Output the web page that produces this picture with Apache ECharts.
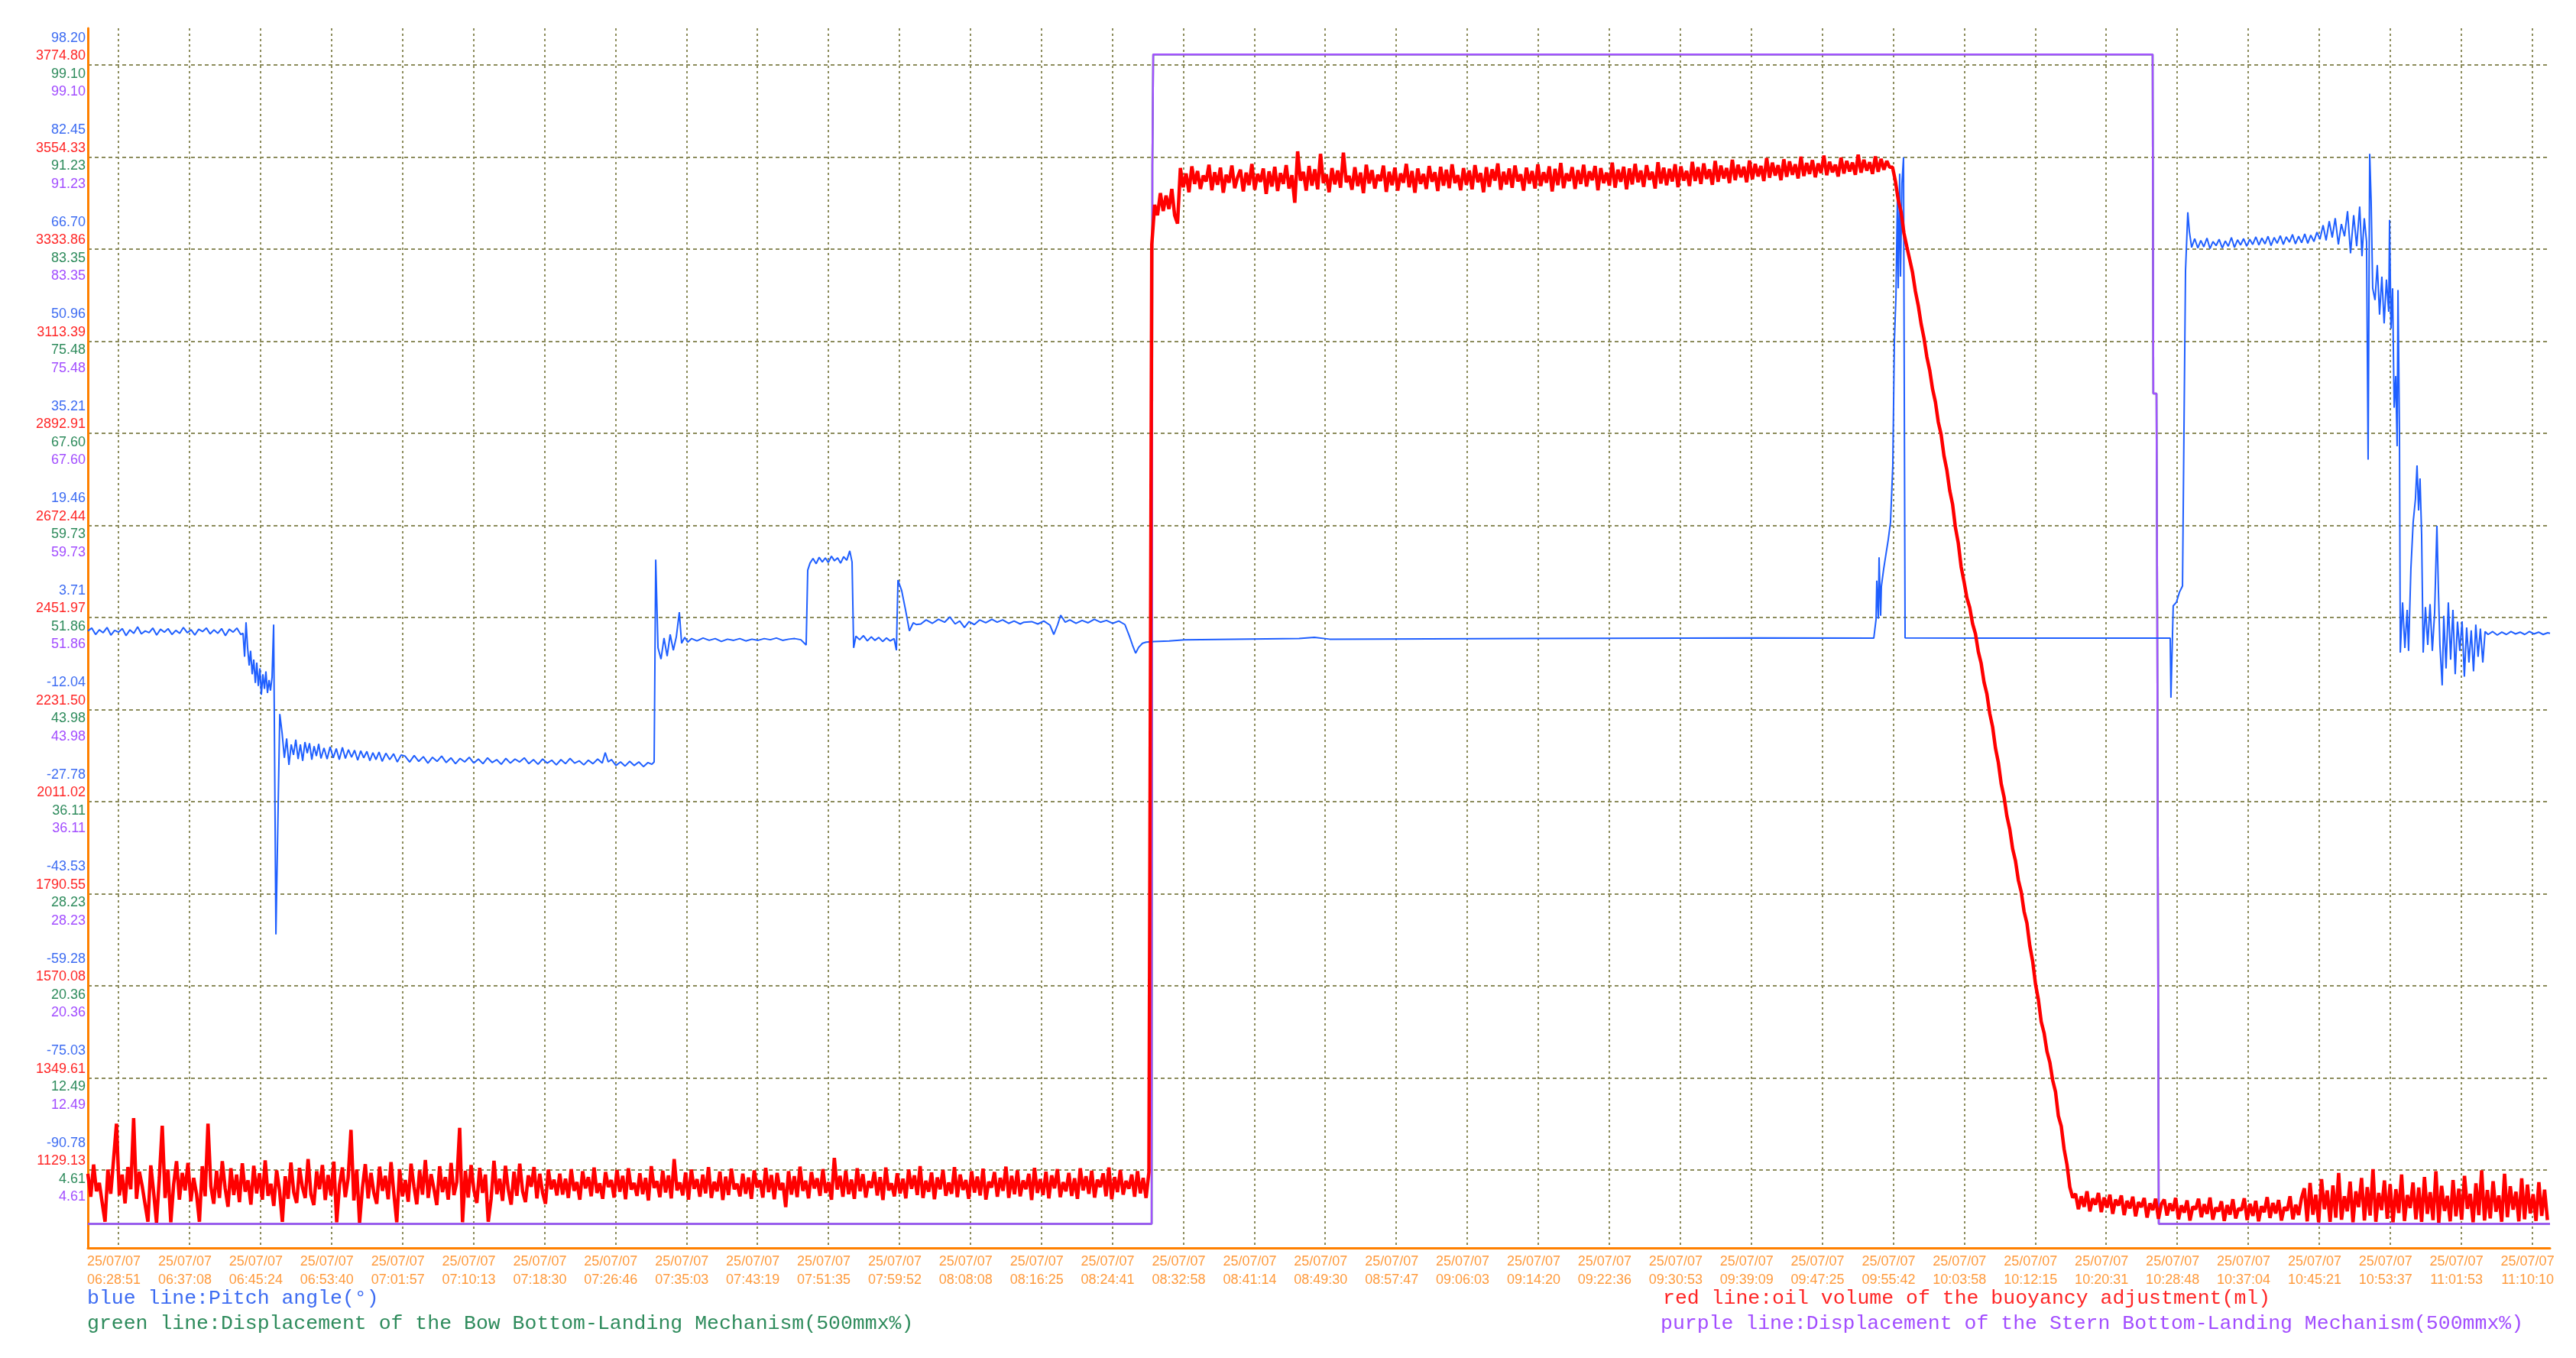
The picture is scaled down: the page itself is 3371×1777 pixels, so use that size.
<!DOCTYPE html>
<html><head><meta charset="utf-8">
<script src="https://cdn.jsdelivr.net/npm/echarts@6/dist/echarts.min.js"></script>
<style>html,body{margin:0;padding:0;background:#fff}#c{width:3371px;height:1777px}</style>
</head><body><div id="c"></div>
<script>
// ---- tick labels ----
const xTickDate = '25/07/07';
const xTickTimes = ['06:28:51','06:37:08','06:45:24','06:53:40','07:01:57','07:10:13','07:18:30','07:26:46','07:35:03','07:43:19','07:51:35','07:59:52','08:08:08','08:16:25','08:24:41','08:32:58','08:41:14','08:49:30','08:57:47','09:06:03','09:14:20','09:22:36','09:30:53','09:39:09','09:47:25','09:55:42','10:03:58','10:12:15','10:20:31','10:28:48','10:37:04','10:45:21','10:53:37','11:01:53','11:10:10'];
const blueTicks = [-90.78,-75.03,-59.28,-43.53,-27.78,-12.04,3.71,19.46,35.21,50.96,66.70,82.45,98.20];
const redTicks = [1129.13,1349.61,1570.08,1790.55,2011.02,2231.50,2451.97,2672.44,2892.91,3113.39,3333.86,3554.33,3774.80];
const greenTicks = [4.61,12.49,20.36,28.23,36.11,43.98,51.86,59.73,67.60,75.48,83.35,91.23,99.10];
const purpleTicks = [4.61,12.49,20.36,28.23,36.11,43.98,51.86,59.73,67.60,75.48,83.35,91.23,99.10];

// ---- legend texts ----
const legendBlue = 'blue line:Pitch angle(°)';
const legendGreen = 'green line:Displacement of the Bow Bottom-Landing Mechanism(500mmx%)';
const legendRed = 'red line:oil volume of the buoyancy adjustment(ml)';
const legendPurple = 'purple line:Displacement of the Stern Bottom-Landing Mechanism(500mmx%)';

// ---- series (x = seconds after 06:28:51) ----
// pitch angle (deg)
const bluePts = [[-214,1.4],[-187,1.9],[-160,0.8],[-134,1.6],[-107,1.1],[-80,2.0],[-53,0.7],[-27,1.5],[0,1.2],[27,1.8],[53,0.6],[80,1.6],[107,1.0],[134,2.1],[160,0.9],[187,1.4],[214,1.1],[240,1.9],[267,0.7],[294,1.7],[321,1.2],[347,1.8],[374,0.8],[401,1.5],[428,1.0],[454,2.0],[481,1.1],[508,1.6],[534,0.7],[561,1.7],[588,1.3],[615,1.9],[641,0.9],[668,1.6],[695,1.0],[721,1.8],[748,0.6],[775,1.7],[802,1.2],[828,1.9],[855,0.8],
[871,1.0],[882,-3.0],[892,2.9],[903,-1.5],[914,-4.5],[924,-2.0],[935,-6.0],[946,-3.5],[957,-7.5],[967,-4.0],[978,-8.0],[989,-5.0],[999,-9.5],[1010,-6.0],[1021,-8.5],[1031,-5.5],[1042,-9.2],[1053,-7.0],[1063,-8.8],[1074,-6.5],[1085,2.5],[1101,-50.5],[1128,-12.8],[1144,-16.0],[1160,-20.3],[1176,-17.0],[1192,-21.5],[1208,-18.0],[1224,-19.8],[1240,-17.2],[1256,-20.5],[1272,-18.0],[1288,-20.8],[1304,-17.6],[1320,-19.5],[1336,-17.8],[1352,-20.6],[1368,-18.3],[1384,-20.0],[1400,-17.9],[1416,-20.4],[1437,-18.6],[1459,-20.5],[1480,-18.4],[1502,-20.3],[1523,-18.7],[1544,-20.6],[1566,-18.5],[1587,-20.4],[1608,-18.9],[1630,-20.2],[1651,-19.0],[1673,-20.7],[1694,-19.1],[1715,-20.3],[1737,-19.2],[1758,-20.8],[1779,-19.4],[1801,-20.6],[1822,-19.3],[1844,-20.9],[1870,-19.5],[1897,-20.6],[1924,-19.6],[1950,-21.0],[1977,-19.8],
[2004,-20.0],[2036,-21.0],[2068,-19.9],[2100,-20.9],[2132,-20.1],[2164,-21.2],[2196,-20.2],[2228,-20.9],[2260,-20.0],[2292,-21.1],[2325,-20.3],[2357,-21.3],[2389,-20.4],[2421,-21.0],[2453,-20.2],[2485,-21.2],[2517,-20.5],[2549,-21.3],[2581,-20.3],[2613,-21.1],[2645,-20.6],[2677,-21.4],[2709,-20.4],[2741,-21.2],[2773,-20.5],[2805,-21.0],[2838,-20.3],[2870,-21.3],[2902,-20.6],[2934,-21.4],[2966,-20.5],[2998,-21.2],[3030,-20.7],[3062,-21.5],[3094,-20.6],[3126,-21.3],[3158,-20.4],[3190,-21.2],[3222,-20.8],[3254,-21.5],[3286,-20.7],[3318,-21.3],[3351,-20.5],[3383,-21.2],[3404,-19.4],[3425,-21.0],[3447,-20.6],[3479,-21.6],[3511,-21.0],[3543,-21.7],[3575,-20.9],[3607,-21.6],[3639,-21.0],[3671,-21.8],[3703,-21.1],[3730,-21.4],
[3746,-21.0],[3757,13.6],[3773,-1.5],[3794,-3.4],[3815,0.2],[3837,-2.9],[3858,0.8],[3880,-1.9],[3901,0.4],[3922,4.6],[3938,-0.7],[3960,0.3],[3981,-0.5],[4008,0.1],[4045,-0.3],[4088,0.2],[4131,-0.2],[4173,0.1],[4216,-0.4],[4259,0.0],[4302,-0.2],[4345,0.1],[4387,-0.3],[4430,0.0],[4473,-0.2],[4516,0.1],[4558,-0.1],[4601,0.2],[4644,-0.2],[4687,0.0],[4729,0.1],[4772,-0.1],[4809,-1.0],[4820,11.8],[4836,13.0],[4857,13.8],[4879,12.9],[4900,14.0],[4922,13.2],[4943,13.9],[4964,13.1],[4986,14.2],[5007,13.4],[5029,13.9],[5050,13.0],[5071,14.1],[5093,13.5],[5114,15.1],[5130,13.2],[5141,-1.5],[5157,0.5],[5183,-0.1],[5210,0.6],[5237,-0.3],[5264,0.4],[5290,-0.2],[5317,0.3],[5344,-0.4],[5371,0.2],[5397,-0.3],[5424,0.1],[5440,-1.9],[5451,10.1],[5477,8.3],[5504,5.0],[5531,1.4],[5558,2.8],[5579,2.5],
[5611,2.6],[5648,3.3],[5691,2.7],[5734,3.4],[5777,2.9],[5814,3.8],[5851,2.6],[5883,3.1],[5916,2.0],[5948,3.0],[5985,2.5],[6022,3.3],[6065,2.8],[6108,3.4],[6145,2.9],[6183,3.3],[6225,2.7],[6263,3.1],[6306,2.6],[6332,2.9],[6386,3.0],[6429,2.6],[6471,3.1],[6514,2.4],[6541,0.8],[6568,2.5],[6589,4.1],[6621,2.9],[6653,3.3],[6696,2.7],[6739,3.2],[6781,2.8],[6824,3.4],[6867,2.9],[6909,3.2],[6952,2.7],[6995,3.1],[7038,2.5],[7070,0.5],[7091,-1.0],[7113,-2.4],[7134,-1.4],[7161,-0.7],[7187,-0.5],[7241,-0.4],[7348,-0.3],[7455,-0.1],[8256,0.1],[8363,0.3],[8470,0.0],[9859,0.1],[11463,0.2],[12275,0.17],
[12280,0.2],[12291,3.4],[12296,10.0],[12307,3.5],[12312,14.0],[12323,4.0],[12328,9.0],[12344,12.0],[12360,14.5],[12376,17.0],[12392,20.0],[12408,29.7],[12419,50.9],[12430,58.5],[12440,75.0],[12446,60.0],[12456,79.6],[12462,62.0],[12472,78.0],[12483,82.4],[12494,0.2],[13066,0.17],[13600,0.17],[14348,0.17],
[14353,-10.0],[14369,5.7],[14391,6.3],[14412,8.0],[14434,9.1],[14444,35.1],[14455,63.0],[14471,73.0],[14482,69.7],
[14498,67.0],[14519,68.5],[14541,66.9],[14562,68.2],[14583,67.1],[14605,68.6],[14626,66.8],[14647,68.0],[14669,67.3],[14690,68.4],[14712,66.9],[14733,68.1],[14754,67.2],[14776,68.7],[14797,67.0],[14819,68.3],[14840,67.4],[14861,68.5],[14883,67.2],[14904,68.4],[14925,67.5],[14947,68.8],[14968,67.4],[14989,68.6],[15011,67.6],[15032,68.9],[15053,67.3],[15075,68.7],[15096,67.7],[15118,69.0],[15139,67.5],[15160,68.8],[15182,67.9],[15203,69.2],[15224,67.6],[15246,68.9],[15267,67.8],[15289,69.3],[15310,67.7],[15331,69.1],[15353,68.0],[15374,69.6],
[15395,68.4],[15417,70.8],[15438,68.2],[15460,71.5],[15481,68.7],[15502,72.0],[15524,67.5],[15545,71.0],[15567,68.9],[15588,73.2],[15609,66.0],[15631,72.5],[15652,67.2],[15673,74.0],[15689,65.5],[15705,72.0],[15721,68.0],[15732,30.7],[15743,83.0],[15753,75.0],[15764,60.0],[15780,58.0],[15796,64.0],[15812,55.5],[15828,62.0],[15844,54.0],[15860,61.5],[15876,56.0],[15882,71.7],[15892,53.1],[15903,60.0],[15914,39.6],[15925,45.0],[15935,33.0],[15941,59.7],[15951,36.0],[15957,-2.3],[15973,6.3],[15989,-1.5],[16005,5.0],[16015,-2.0],[16031,12.0],[16047,20.0],[16063,24.0],[16074,29.7],[16085,22.0],[16095,27.5],[16106,18.0],[16117,-2.3],[16133,5.5],[16149,-1.0],[16165,6.0],[16181,-2.0],[16197,4.5],[16213,19.4],[16224,8.0],[16234,-1.0],[16250,-7.9],[16261,4.0],[16277,-5.0],[16293,6.3],[16309,-3.5],[16325,5.0],[16341,-6.0],[16357,3.0],[16373,-2.0],[16389,3.05],[16405,-6.4],[16421,2.0],[16437,-4.0],[16453,1.5],[16469,-5.5],[16485,2.5],[16501,-3.0],[16517,1.8],[16534,-4.0],[16550,1.3],[16571,0.8],[16603,1.3],[16635,0.7],[16667,1.2],[16699,0.8],[16731,1.3],[16763,0.9],[16795,1.2],[16827,0.8],[16860,1.3],[16892,0.9],[16924,1.2],[16956,0.8],[16988,1.1],[17004,1.0]];

// oil volume (ml), logged every redStep seconds from redStart
const redStart = -214;
const redStep = 20;
const redVals = [
1120,1065,1142,1078,1098,1051,1005,1130,1072,1155,1240,1068,1118,1049,1136,1083,1253,1060,1125,1090,
1047,1005,1140,1075,1003,1112,1235,1062,1130,1004,1095,1150,1058,1122,1080,1146,1054,1110,1071,1005,
1138,1066,1240,1090,1048,1127,1062,1150,1085,1041,1133,1069,1118,1052,1145,1077,1104,1046,1139,1073,
1121,1058,1152,1067,1096,1043,1128,1081,1005,1114,1060,1147,1075,1050,1134,1088,1062,1155,1070,1045,
1126,1083,1141,1057,1117,1068,1149,1004,1094,1135,1064,1110,1225,1056,1130,1003,1086,1143,1061,1122,
1074,1048,1137,1079,1115,1059,1148,1072,1004,1131,1066,1105,1053,1144,1090,1047,1128,1070,1153,1062,
1119,1084,1045,1138,1076,1112,1058,1146,1069,1100,1230,1004,1127,1063,1141,1080,1050,1134,1074,1118,
1005,1060,1151,1071,1108,1055,1139,1082,1046,1125,1067,1144,1078,1052,1116,1089,1136,1061,1120,1074,
1048,1130,1083,1106,1068,
1120,1070,1108,1062,1131,1079,1100,1058,1126,1085,1112,1066,1135,1074,1097,1060,1124,1088,1105,1063,
1129,1077,1115,1059,1133,1082,1098,1067,1121,1071,1110,1056,1138,1086,1102,1064,1127,1075,1116,1061,
1155,1080,1099,1068,1123,1058,1130,1084,1107,1065,1118,1073,1136,1062,1101,1078,1125,1057,1113,1069,
1132,1083,1096,1066,1120,1072,1111,1060,1128,1087,1104,1063,1134,1076,1117,1059,1122,1081,1098,1040,
1126,1070,1114,1064,1137,1079,1103,1061,1124,1085,1109,1067,1131,1074,1100,1058,1158,1082,1115,1065,
1127,1071,1106,1060,1133,1078,1119,1063,1102,1086,1125,1068,1112,1057,1135,1080,1097,1066,1121,1073,
1108,1061,1130,1084,1116,1069,1138,1062,1103,1077,1123,1059,1111,1083,1129,1067,1099,1072,1136,1064,
1118,1081,1105,1060,1126,1075,1113,1068,1132,1058,1101,1087,1124,1065,1110,1079,1137,1062,1115,1071,
1128,1066,1104,1083,1120,1057,1134,1074,1107,1069,1125,1061,1116,1085,1131,1064,1100,1078,1122,1067,
1109,1060,1133,1080,1114,1072,1127,1063,1106,1088,1121,1066,1135,1059,1112,1076,1129,1070,1103,1084,
1118,1065,1126,1073,1110,1062,1124,
3345,3440,3415,3468,3425,3462,3430,3478,3415,3395,
3528,3482,3515,3470,3532,3490,3521,3478,3510,3496,3536,3475,3518,3488,3529,3469,3512,3493,3534,3480,
3506,3524,3472,3517,3487,3538,3476,3514,3495,3527,3466,3520,3484,3531,3473,3516,3490,3535,3479,3511,
3445,3568,3498,3519,3474,3533,3486,3525,3477,3562,3492,3513,3470,3528,3489,3522,3481,3565,3494,3509,
3476,3530,3485,3517,3468,3536,3491,3523,3479,3512,3497,3534,3471,3519,3487,3529,3474,3515,3493,3538,
3482,3521,3469,3527,3490,3514,3478,3533,3495,3518,3473,3531,3486,3524,3480,3537,3492,3511,3475,3528,
3488,3522,3477,3535,3494,3516,3470,3530,3483,3525,3498,3539,3476,3519,3489,3527,3481,3534,3496,3513,
3474,3529,3491,3521,3479,3537,3485,3518,3493,3532,3472,3526,3487,3540,3480,3515,3497,3530,3478,3523,
3490,3536,3484,3520,3499,3533,3475,3528,3492,3517,3486,3541,3481,3524,3495,3531,3477,3527,3489,3538,
3494,3522,3483,3535,3500,3519,3479,3542,3491,3529,3487,3526,3496,3537,3482,3532,3498,3521,3485,3543,
3497,3530,3490,3539,3502,3525,3488,3545,3495,3534,3503,3528,3492,3548,3499,3536,3506,3531,3494,3546,
3501,3538,3508,3533,3497,3552,3505,3541,3510,3535,3499,3549,3507,3544,3512,3537,3503,3555,3509,3540,
3514,3547,3506,3539,3516,3558,3511,3543,3518,3536,3508,3553,3515,3545,3520,3541,3512,3560,3517,3548,
3522,3542,3514,3556,3519,3550,3524,3545,3530,
3530,3497,3452,3423,3372,3340,3309,3278,3233,3199,3155,3121,3076,3044,2999,2968,2920,2890,2839,2805,
2756,2723,2667,2630,2573,2538,2499,2476,2437,2413,2370,2342,2297,2269,2222,2190,2139,2105,2054,2022,
1976,1945,1898,1869,1823,1795,1748,1720,1666,1629,1574,1537,1484,1457,1413,1387,1344,1316,1258,1234,
1179,1142,1088,1063,
1072,1035,1066,1041,1078,1030,1061,1046,1074,1028,1063,1039,1070,1024,1058,1044,1068,1021,1055,1037,
1065,1018,1052,1040,1062,1015,1049,1033,1060,1012,1047,
1058,1020,1049,1031,1062,1011,1044,1027,1056,1008,1041,1035,1060,1016,1047,1024,1063,1010,1039,1030,
1054,1007,1045,1022,1059,1013,1037,1033,1061,1009,1048,1019,1055,1006,1042,1028,1064,1014,1050,1025,
1057,1008,1040,1032,1066,1011,1046,1021,1062,
1085,1006,1098,1022,1070,1004,1107,1035,1080,1005,1092,1015,1122,1010,1066,1030,1101,1004,1078,1040,
1110,1008,1088,1020,1131,1005,1074,1033,1104,1012,1095,1004,1083,1026,1118,1007,1069,1038,1099,1011,
1087,1005,1112,1024,1076,1009,1126,1003,1091,1031,1067,1006,1105,1018,1084,1010,1115,1036,1072,1004,
1097,1021,1128,1008,1081,1013,1102,1029,1068,1005,1120,1016,1090,1034,1077,1006,1109,1011,1094,1025,
1071,1007,1100,1019,1082,1009];

// stern mechanism displacement (%)
const purplePts = [[-214,0],[7225,0],[7230,90.5],[7236,100],[14225,100],[14230,71],[14252,71],[14257,53],[14262,53],[14268,0],[17004,0]];
// bow mechanism displacement (%)
const greenPts = [[-214,0],[7225,0],[7230,90.5],[7236,100],[14225,100],[14230,71],[14252,71],[14257,53],[14262,53],[14268,0],[17004,0]];

// ---- build ----
function toSec(s){const p=s.split(':').map(Number);return p[0]*3600+p[1]*60+p[2];}
const t0 = toSec(xTickTimes[0]);
const xTickSec = xTickTimes.map(t => toSec(t) - t0);
function nearestIdx(arr, v){let b=0,d=Infinity;arr.forEach((a,i)=>{const e=Math.abs(a-v);if(e<d){d=e;b=i;}});return b;}
const redData = redVals.map((v,i) => [redStart + i*redStep, v]);

const labelFont = 'Liberation Sans, Arial, sans-serif';
const monoFont = 'Liberation Mono, DejaVu Sans Mono, monospace';
const C = {blue:'#3d6cf2', red:'#ff2626', green:'#2e8b5c', purple:'#a24dff'};
const legendStyle = (color) => ({fontFamily:monoFont, fontSize:26.5, fontWeight:'normal', color:color, lineHeight:30});

const chart = echarts.init(document.getElementById('c'), null, {renderer:'canvas'});
chart.setOption({
  animation:false,
  backgroundColor:'#ffffff',
  title:[
    {text:legendBlue, left:114, top:1684, padding:0, textStyle:legendStyle(C.blue)},
    {text:legendGreen, left:114, top:1717, padding:0, textStyle:legendStyle(C.green)},
    {text:legendRed, left:2176, top:1684, padding:0, textStyle:legendStyle(C.red)},
    {text:legendPurple, left:2173, top:1717, padding:0, textStyle:legendStyle(C.purple)}
  ],
  grid:{left:115, top:37, right:34, bottom:144, containLabel:false},
  xAxis:{
    type:'value', min:-214, max:17004,
    axisLine:{show:true, onZero:false, lineStyle:{color:'#ff8000', width:3}},
    axisTick:{show:false, customValues:xTickSec},
    splitLine:{show:true, lineStyle:{color:'#8c8c5c', width:2, type:[3,4]}},
    axisLabel:{
      customValues:xTickSec, margin:6, color:'#ff9a3c', fontSize:18, fontFamily:labelFont,
      lineHeight:24, align:'center', padding:[0,12,0,0],
      formatter:function(v){const k=nearestIdx(xTickSec,v);return xTickDate+'\n'+xTickTimes[k];}
    }
  },
  yAxis:[
    {type:'value', min:-2.06, max:102.24, position:'left',
     axisLine:{show:true, onZero:false, lineStyle:{color:'#ff8000', width:3}},
     axisTick:{show:false, customValues:greenTicks},
     splitLine:{show:true, lineStyle:{color:'#8c8c5c', width:2, type:[5,4]}},
     axisLabel:{
       customValues:greenTicks, margin:3, align:'right',
       formatter:function(v){const k=nearestIdx(greenTicks,v);
         return '{b|'+blueTicks[k].toFixed(2)+'}\n{r|'+redTicks[k].toFixed(2)+'}\n{g|'+greenTicks[k].toFixed(2)+'}\n{p|'+purpleTicks[k].toFixed(2)+'}';},
       rich:{
         b:{color:C.blue, fontSize:18, fontFamily:labelFont, lineHeight:23.5, align:'right'},
         r:{color:C.red, fontSize:18, fontFamily:labelFont, lineHeight:23.5, align:'right'},
         g:{color:C.green, fontSize:18, fontFamily:labelFont, lineHeight:23.5, align:'right'},
         p:{color:C.purple, fontSize:18, fontFamily:labelFont, lineHeight:23.5, align:'right'}
       }
     }},
    {type:'value', min:-104.12, max:104.48, show:false},
    {type:'value', min:942.3, max:3862.7, show:false}
  ],
  series:[
    {name:'green', type:'line', yAxisIndex:0, data:greenPts, showSymbol:false, symbol:'none', lineStyle:{color:'#2e8b57', width:2.5}, itemStyle:{color:'#2e8b57'}},
    {name:'purple', type:'line', yAxisIndex:0, data:purplePts, showSymbol:false, symbol:'none', lineStyle:{color:'#a352ff', width:2.5}, itemStyle:{color:'#a352ff'}},
    {name:'blue', type:'line', yAxisIndex:1, data:bluePts, showSymbol:false, symbol:'none', lineStyle:{color:'#1f5fff', width:2}, itemStyle:{color:'#1f5fff'}},
    {name:'red', type:'line', yAxisIndex:2, data:redData, showSymbol:false, symbol:'none', lineStyle:{color:'#ff0000', width:4.5, join:'bevel'}, itemStyle:{color:'#ff0000'}}
  ]
});
</script>
</body></html>
